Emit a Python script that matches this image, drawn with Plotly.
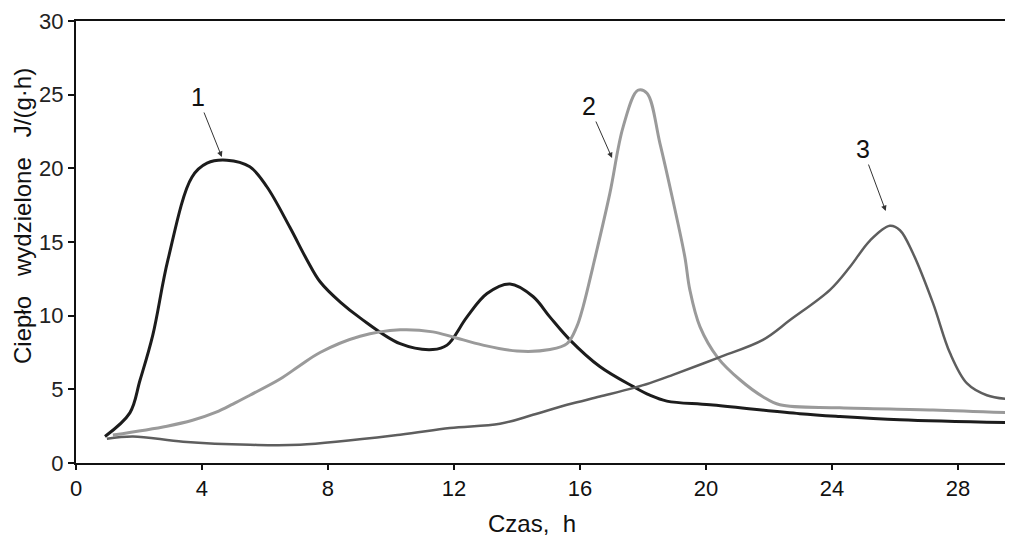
import plotly.graph_objects as go

# Curve 1 (black)
c1_x = [0.92, 1.71, 2.03, 2.44, 2.92, 3.68, 4.16, 4.79, 5.52, 6.06, 6.79, 7.33, 7.75,
        8.4, 9.02, 10.29, 11.33, 11.78, 12.41, 13.05, 13.78, 14.51, 15.05, 15.68, 16.63, 17.68,
        18.22, 18.76, 20.13, 22.98, 24.25, 26.16, 29.75]
c1_y = [1.8, 3.4, 5.6, 8.7, 13.8, 19.4, 20.35, 20.55, 20.1, 18.75, 16.0, 13.8, 12.3,
        10.9, 9.85, 8.1, 7.7, 8.0, 9.9, 11.5, 12.15, 11.3, 9.9, 8.36, 6.55, 5.2,
        4.6, 4.2, 3.95, 3.35, 3.16, 2.94, 2.73]

# Curve 2 (light grey)
c2_x = [1.17, 2.89, 3.7, 4.45, 4.98, 5.52, 6.48, 7.1, 7.75, 9.02, 10.29, 11.33, 11.97, 12.92, 14.0,
        15.05, 15.59, 15.9, 16.1, 16.41, 16.95, 17.37, 17.84, 18.13, 18.54, 18.95, 19.33,
        19.49, 19.81, 20.38, 21.08, 21.81, 22.35, 24.25, 27.21, 29.75]
c2_y = [1.9, 2.5, 2.9, 3.45, 4.0, 4.6, 5.7, 6.6, 7.5, 8.6, 9.04, 8.9, 8.55, 8.0, 7.6,
        7.7, 8.1, 9.25, 10.6, 13.3, 18.3, 22.8, 25.3, 25.1, 21.7, 17.85, 14.0,
        11.75, 9.26, 7.14, 5.65, 4.5, 3.95, 3.75, 3.6, 3.4]

# Curve 3 (dark grey)
c3_x = [0.98, 1.81, 3.4, 5.52, 7.11, 10.29, 11.87, 13.46, 14.51, 15.59, 16.63, 17.68, 18.22,
        18.95, 20.38, 21.81, 22.67, 23.94, 24.57, 25.21, 25.84, 26.16, 26.57, 27.21, 27.75,
        28.29, 28.92, 29.75]
c3_y = [1.65, 1.8, 1.45, 1.24, 1.24, 1.92, 2.37, 2.66, 3.27, 3.95, 4.51, 5.08, 5.42,
        5.98, 7.14, 8.36, 9.7, 11.75, 13.3, 15.1, 16.1, 15.8, 14.25, 10.85, 7.46,
        5.4, 4.6, 4.3]

x_ticks = [0, 4, 8, 12, 16, 20, 24, 28]
y_ticks = [0, 5, 10, 15, 20, 25, 30]

labels = ["1", "2", "3"]
label_tip_x = [4.63, 17.02, 25.71]
label_tip_y = [20.77, 20.7, 17.1]

font = "Liberation Sans, Arial, sans-serif"

fig = go.Figure()
fig.add_trace(go.Scatter(x=c1_x, y=c1_y, mode="lines",
                         line=dict(color="#1c1c1c", width=3, shape="spline", smoothing=1.0)))
fig.add_trace(go.Scatter(x=c2_x, y=c2_y, mode="lines",
                         line=dict(color="#9a9a9a", width=3, shape="spline", smoothing=1.0)))
fig.add_trace(go.Scatter(x=c3_x, y=c3_y, mode="lines",
                         line=dict(color="#5e5e5e", width=2.5, shape="spline", smoothing=1.0)))

offsets = [(-24, -60), (-23, -52), (-23, -62)]
for lab, tx, ty, (ax, ay) in zip(labels, label_tip_x, label_tip_y, offsets):
    fig.add_annotation(x=tx, y=ty, xref="x", yref="y", text=lab, showarrow=True,
                       ax=ax, ay=ay, arrowhead=2, arrowsize=1.1, arrowwidth=1,
                       arrowcolor="#333333", standoff=0,
                       font=dict(family=font, size=25, color="#111111"))

# page has an 8px body margin: figure origin is at (8, 8) in the window
W, H = 1005, 531
L, T, B = 68, 13, 76
PW, PH = W - L, H - T - B

fig.add_annotation(x=(532 - 76) / PW, y=-(523 - 463) / PH, xref="paper", yref="paper",
                   text="Czas,\u00a0\u00a0h", showarrow=False, xanchor="center", yanchor="middle",
                   font=dict(family=font, size=24, color="#111111"))
fig.add_annotation(x=-(76 - 22) / PW, y=(463 - 216) / PH, xref="paper", yref="paper",
                   text="Ciepło\u00a0\u00a0\u00a0wydzielone\u00a0\u00a0\u00a0J/(g·h)", textangle=-90,
                   showarrow=False, xanchor="center", yanchor="middle",
                   font=dict(family=font, size=24, color="#111111"))

fig.update_layout(
    width=W, height=H,
    margin=dict(l=L, r=0, t=T, b=B),
    plot_bgcolor="white", paper_bgcolor="white",
    showlegend=False,
    xaxis=dict(range=[0, 29.75], tickvals=x_ticks, ticktext=[str(v) for v in x_ticks],
               showgrid=False, zeroline=False, showline=True, linecolor="#111111",
               linewidth=2, mirror=True, ticks="outside", ticklen=5, tickwidth=1.5,
               tickcolor="#111111", tickfont=dict(family=font, size=22, color="#111111")),
    yaxis=dict(range=[0, 30], tickvals=y_ticks, ticktext=[str(v) for v in y_ticks],
               showgrid=False, zeroline=False, showline=True, linecolor="#111111",
               linewidth=2, ticks="outside", ticklen=6, tickwidth=1.5,
               tickcolor="#111111", ticklabelstandoff=0,
               tickfont=dict(family=font, size=22, color="#222222")),
)

fig.write_html("out.html")
